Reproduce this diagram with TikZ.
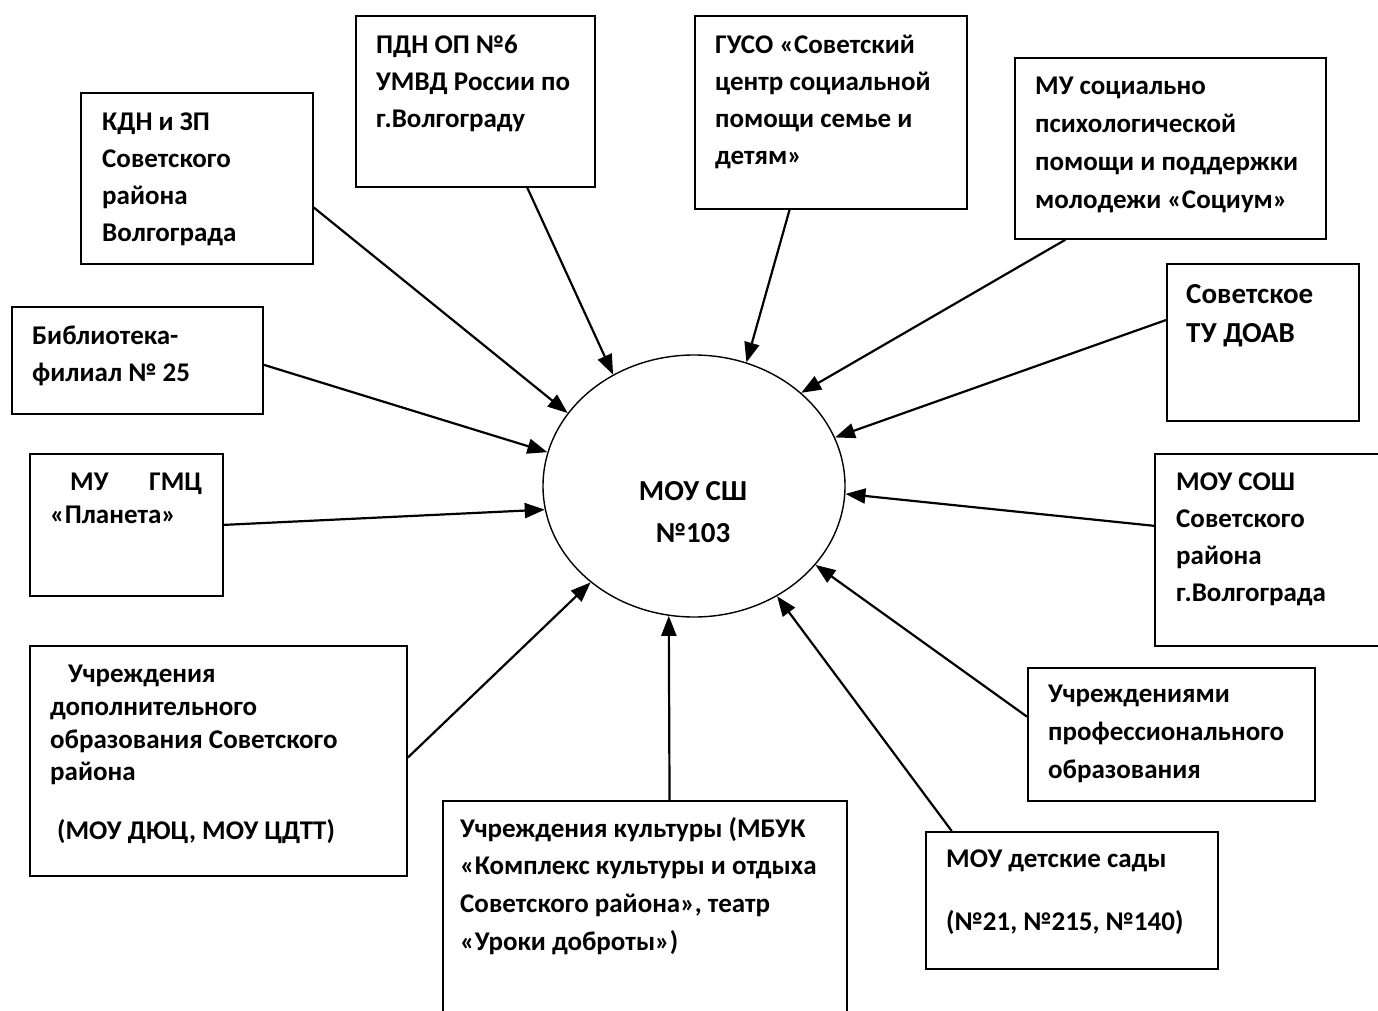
\documentclass[tikz,border=0pt]{standalone}
\usepackage{fontspec}
\setmainfont{Carlito}
\usetikzlibrary{arrows.meta,shapes.geometric}

% looks used again and again; every text starts with a 20pt strut,
% so its top sits 20pt over the first baseline
\tikzset{
  box/.style={draw, line width=1.8pt, inner sep=0pt, anchor=north west},
  boxtext/.style={anchor=north west, inner sep=0pt, align=left,
    font=\fontsize{27}{37}\selectfont\bfseries,
    execute at begin node={\rule{0pt}{20pt}}},
  link/.style={line width=2.2pt, -{Triangle[length=20pt,width=15pt]}},
}

\begin{document}
\begin{tikzpicture}[x=1pt, y=-1pt]
    % the page: 1378 x 1011, one unit = one pixel, y runs down
    \useasboundingbox (0,0) rectangle (1378,1011);
    \clip (0,0) rectangle (1378,1011);

    % the school in the middle
    \node[draw, ellipse, line width=1.4pt, minimum width=302pt,
        minimum height=262pt, inner sep=0pt] (school) at (694,486) {};
    \node[anchor=north, inner sep=0pt, align=center,
        font=\fontsize{29}{42}\selectfont\bfseries] (schooltext)
        at (693,480) {\rule{0pt}{20pt}МОУ СШ\\№103};

    % the partners, box first and its text after
    \node[box, minimum width=232pt, minimum height=171pt] (kdn) at (80,92) {};
    \node[boxtext] (kdntext) at ([shift={(22,21)}]kdn.north west)
        {КДН и ЗП\\Советского\\района\\Волгограда};

    \node[box, minimum width=239pt, minimum height=171pt] (pdn) at (355,15) {};
    \node[boxtext] (pdntext) at ([shift={(21,20)}]pdn.north west)
        {ПДН ОП №6\\УМВД России по\\г.Волгограду};

    \node[box, minimum width=272pt, minimum height=193pt] (guso) at (694,15) {};
    \node[boxtext] (gusotext) at ([shift={(21,20)}]guso.north west)
        {ГУСО «Советский\\центр социальной\\помощи семье и\\детям»};

    \node[box, minimum width=311pt, minimum height=181pt] (socium) at (1014,57) {};
    \node[boxtext, font=\fontsize{27}{38}\selectfont\bfseries] (sociumtext)
        at ([shift={(21,20)}]socium.north west)
        {МУ социально\\психологической\\помощи и поддержки\\молодежи «Социум»};

    \node[box, minimum width=192pt, minimum height=157pt] (doav) at (1166,263) {};
    \node[boxtext, font=\fontsize{29}{39}\selectfont\bfseries] (doavtext)
        at ([shift={(20,21)}]doav.north west) {Советское\\ТУ ДОАВ};

    % this one runs off the right side of the page
    \node[box, minimum width=246pt, minimum height=192pt] (sosh) at (1154,453) {};
    \node[boxtext] (soshtext) at ([shift={(22,20)}]sosh.north west)
        {МОУ СОШ\\Советского\\района\\г.Волгограда};

    \node[box, minimum width=287pt, minimum height=133pt] (prof) at (1027,667) {};
    \node[boxtext, font=\fontsize{27}{38}\selectfont\bfseries] (proftext)
        at ([shift={(21,18)}]prof.north west)
        {Учреждениями\\профессионального\\образования};

    \node[box, minimum width=292pt, minimum height=137pt] (kinder) at (925,831) {};
    \node[boxtext] (kindertext) at ([shift={(21,19)}]kinder.north west)
        {МОУ детские сады\\[26pt](№21, №215, №140)};

    % and this one runs off the bottom
    \node[box, minimum width=404pt, minimum height=230pt] (culture) at (442,800) {};
    \node[boxtext, font=\fontsize{27}{37.6}\selectfont\bfseries] (culturetext)
        at ([shift={(18,17)}]culture.north west)
        {Учреждения культуры (МБУК\\«Комплекс культуры и отдыха\\Советского района», театр\\«Уроки доброты»)};

    \node[box, minimum width=377pt, minimum height=230pt] (dop) at (29,645) {};
    \node[boxtext, font=\fontsize{27}{32.7}\selectfont\bfseries] (doptext)
        at ([shift={(21,20)}]dop.north west)
        {\hspace*{18pt}Учреждения\\дополнительного\\образования Советского\\района\\[26pt]\hspace*{7pt}(МОУ ДЮЦ, МОУ ЦДТТ)};

    \node[box, minimum width=193pt, minimum height=142pt] (planeta) at (29,453) {};
    \node[boxtext, text width=152pt, font=\fontsize{27}{33}\selectfont\bfseries]
        (planetatext) at ([shift={(21,17)}]planeta.north west)
        {\hspace*{20pt}МУ\hfill ГМЦ\\«Планета»};

    \node[box, minimum width=251pt, minimum height=107pt] (biblio) at (11,306) {};
    \node[boxtext] (bibliotext) at ([shift={(21,20)}]biblio.north west)
        {Библиотека-\\филиал № 25};

    % every partner points at the school
    \draw[link] (kdn.-14.3) -- (school.150.2);
    \draw[link] (pdn.-59.4) -- (school.126);
    \draw[link] (guso.-113) -- (school.67.5);
    \draw[link] (socium.221.2) -- (school.41.8);
    \draw[link] (doav.167.5) -- (school.19.3);
    \draw[link] (sosh.169.2) -- (school.-3);
    \draw[link] (prof.173.4) -- (school.-33.5);
    \draw[link] (kinder.150.1) -- (school.-53.2);
    \draw[link] (culture.78.7) -- (school.259.7);
    \draw[link] (dop.1) -- (school.223.5);
    \draw[link] (planeta.east) -- (school.189.4);
    \draw[link] (biblio.-2.5) -- (school.167.3);
\end{tikzpicture}
\end{document}
